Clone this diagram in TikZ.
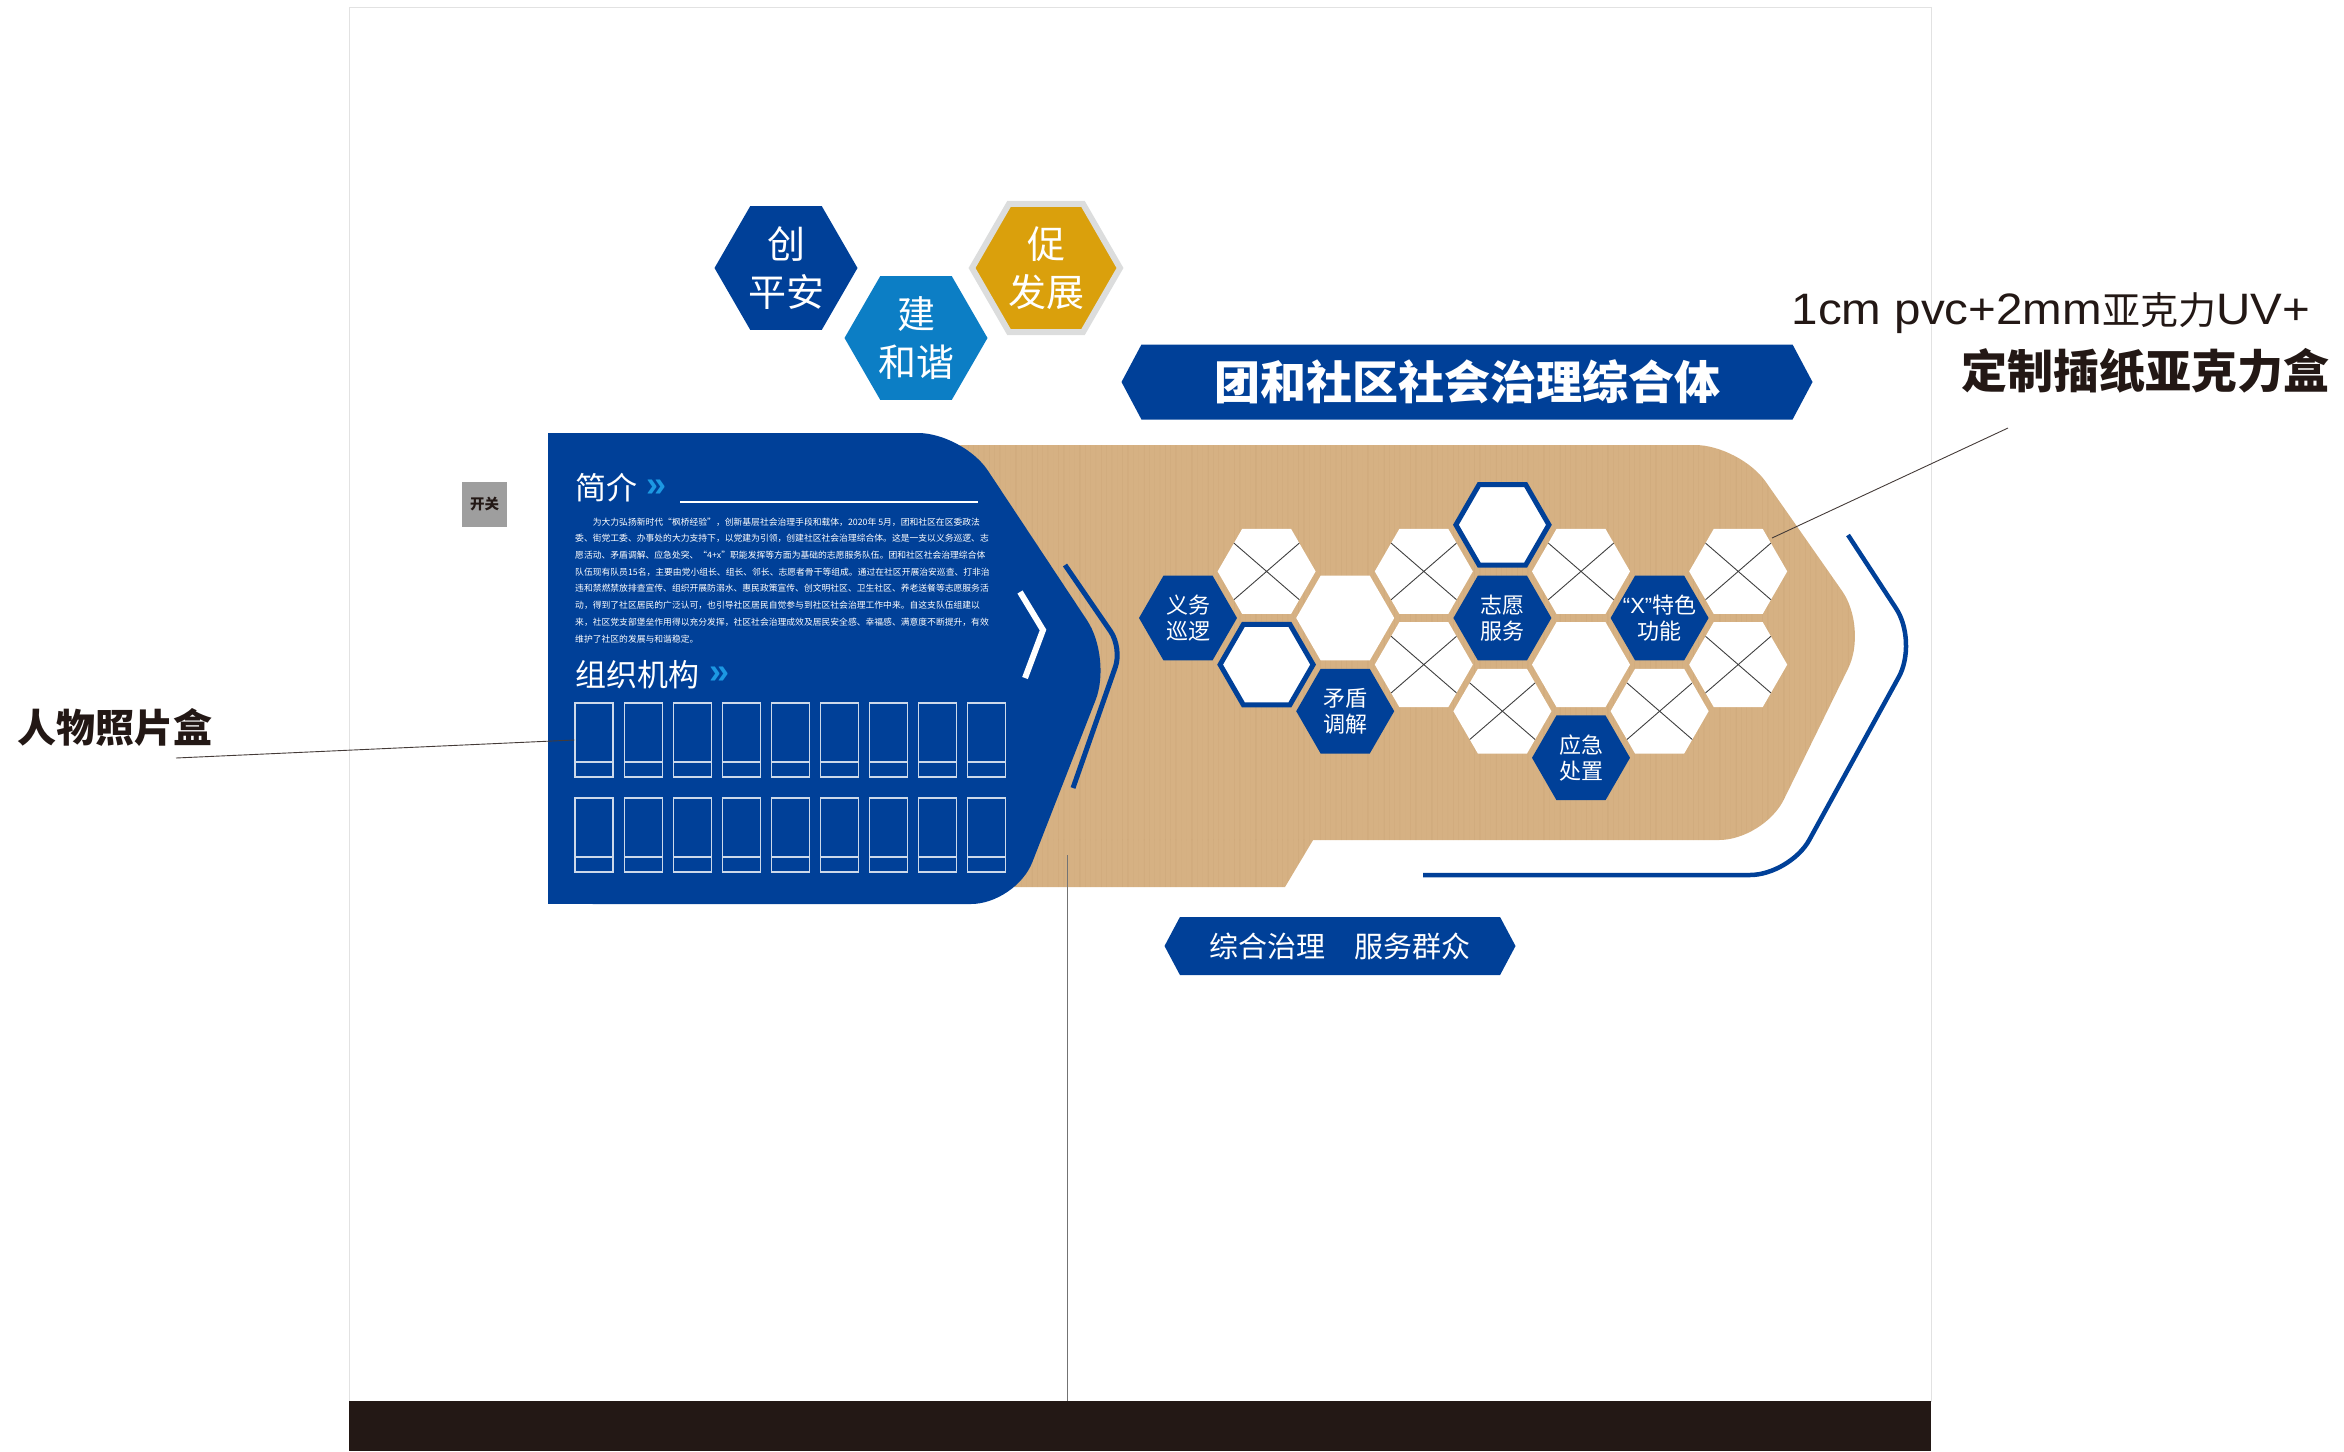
\documentclass[tikz,border=0pt]{standalone}
\usepackage{fontspec}
\setmainfont{Liberation Sans}
\newfontfamily\cjk{Noto Sans CJK SC}
\usetikzlibrary{shapes.geometric,shapes.symbols,positioning}

\definecolor{mainblue}{RGB}{0,64,152}
\definecolor{skyblue}{RGB}{12,126,197}
\definecolor{gold}{RGB}{218,160,12}
\definecolor{hexrim}{RGB}{220,221,221}
\definecolor{wood}{RGB}{214,177,131}
\definecolor{grain}{RGB}{176,136,90}
\definecolor{ink}{RGB}{35,24,21}
\definecolor{chevblue}{RGB}{28,152,226}
\definecolor{wallgray}{RGB}{226,226,226}
\definecolor{switchgray}{RGB}{158,158,158}

\tikzset{
  hexcell/.style={regular polygon,regular polygon sides=6,minimum size=98pt,inner sep=0pt,outer sep=0pt},
  crosshex/.style={hexcell,fill=white,path picture={\draw[black!75,line width=0.9pt]
      (path picture bounding box.north west) -- (path picture bounding box.south east)
      (path picture bounding box.north east) -- (path picture bounding box.south west);}},
  plainhex/.style={hexcell,fill=white},
  ringhex/.style={hexcell,minimum size=93pt,fill=white,draw=mainblue,line width=5pt},
  bluehex/.style={hexcell,fill=mainblue},
  hextext/.style={text=white,align=center,inner sep=0pt,font=\cjk\fontsize{22}{26}\selectfont},
  bighex/.style={hexcell,minimum size=143pt,text=white,align=center,font=\cjk\fontsize{38}{48}\selectfont},
  banner/.style={signal,signal to=west and east,signal pointer angle=124,fill=mainblue,text=white,inner sep=0pt},
  heading/.style={text=white,inner sep=0pt,anchor=west,font=\cjk\fontsize{31}{31}\selectfont},
  quotemark/.style={text=chevblue,inner sep=0pt,anchor=west,font=\bfseries\fontsize{36}{36}\selectfont},
  photobox/.style={draw=white!80!mainblue,line width=1.2pt,minimum width=38pt,minimum height=74pt,inner sep=0pt,
    path picture={\draw[white!80!mainblue,line width=1.2pt]
      ([yshift=15pt]path picture bounding box.south west) -- ([yshift=15pt]path picture bounding box.south east);}},
  leader/.style={draw=ink!85,line width=0.9pt},
  guide/.style={mainblue,line width=5pt,rounded corners=40pt},
}

\newcommand\woodgrain{%
  \foreach \g in {0,...,239}{%
    \pgfmathsetmacro\gx{920+4*\g+mod(37*\g,4)}%
    \pgfmathsetmacro\go{0.02+mod(53*\g,11)/110}%
    \draw[grain,line width=0.9pt,opacity=\go] (\gx,440) -- (\gx,890);}}

\begin{document}
\begin{tikzpicture}[x=1pt,y=-1pt]
\useasboundingbox (0,0) rectangle (2344,1451);

% wall and floor
\draw[wallgray,line width=1pt] (349,7) rectangle (1931,1401);
\path (349,1401) node (floor) [fill=ink,anchor=north west,minimum width=1582pt,minimum height=50pt,inner sep=0pt] {};

% wood board
\fill[wood,rounded corners=45pt] (920,445) -- (1740,445) -- (1868,628) -- (1764,840) -- (920,840) -- cycle;
\fill[wood] (920,800) -- (1337,800) -- (1285,887) -- (920,887) -- cycle;
\begin{scope}
  \clip[rounded corners=45pt] (920,445) -- (1740,445) -- (1868,628) -- (1764,840) -- (920,840) -- cycle;
  \woodgrain
\end{scope}
\begin{scope}
  \clip (920,839.5) -- (1313,839.5) -- (1285,887) -- (920,887) -- cycle;
  \woodgrain
\end{scope}

% blue board
\fill[mainblue,rounded corners=45pt] (548,433) -- (963,433) -- (1112,658) -- (1016,904) -- (548,904) -- cycle;
\fill[mainblue] (548,433) rectangle (760,904);

% chevrons
\draw[white,line width=6pt] (1020,592) -- (1043,630) -- (1025,678);
\draw[guide,rounded corners=20pt] (1065,565) -- (1122,648) -- (1073,788);
\draw[guide,line width=4.5pt] (1848,535) -- (1918,642) -- (1790,875) -- (1423,875);

% top hexes
\path (786,268) node (ping) [bighex,fill=mainblue] {创\\平安};
\path (916,338) node (hexie) [bighex,fill=skyblue] {建\\和谐};
\path (1046,268) node (fazhan) [bighex,minimum size=148pt,fill=gold,draw=hexrim,line width=6pt] {促\\发展};

% title
\path (1467,382) node (title) [banner,minimum width=691pt,minimum height=75pt,font=\cjk\bfseries\fontsize{46}{46}\selectfont] {团和社区社会治理综合体};

% intro
\path (575,488) node (introhead) [heading] {简介};
\path node (introarrow) [quotemark,right=9pt of introhead] {»};
\draw[white,line width=1.3pt] (680,502) -- (978,502);
\path (575,517.5) node (intro) [anchor=north west,inner sep=0pt,align=left,text=white,font=\cjk\fontsize{8.8}{16.7}\selectfont]
 {\hspace*{2em}为大力弘扬新时代“枫桥经验”，创新基层社会治理手段和载体，2020年 5月，团和社区在区委政法\\
  委、街党工委、办事处的大力支持下，以党建为引领，创建社区社会治理综合体。这是一支以义务巡逻、志\\
  愿活动、矛盾调解、应急处突、“4+x”职能发挥等方面为基础的志愿服务队伍。团和社区社会治理综合体\\
  队伍现有队员15名，主要由党小组长、组长、邻长、志愿者骨干等组成。通过在社区开展治安巡查、打非治\\
  违和禁燃禁放排查宣传、组织开展防溺水、惠民政策宣传、创文明社区、卫生社区、养老送餐等志愿服务活\\
  动，得到了社区居民的广泛认可，也引导社区居民自觉参与到社区社会治理工作中来。自这支队伍组建以\\
  来，社区党支部堡垒作用得以充分发挥，社区社会治理成效及居民安全感、幸福感、满意度不断提升，有效\\
  维护了社区的发展与和谐稳定。};

% organisation
\path (575,675) node (orghead) [heading] {组织机构};
\path node (orgarrow) [quotemark,right=10pt of orghead] {»};
\foreach \i in {1,...,9}{
  \path (594+49.1*\i-49.1,740) node (photoa\i) [photobox] {};
  \path (594+49.1*\i-49.1,835) node (photob\i) [photobox] {};
}

% honeycomb
\foreach \c/\r in {1/-1,3/-1,3/1,4/2,5/-1,6/2,7/-1,7/1}
  \path (1188+78.6*\c,618+46.6*\r) node (cell\c\r) [crosshex] {};
\foreach \c/\r in {2/0,5/1}
  \path (1188+78.6*\c,618+46.6*\r) node (cell\c\r) [plainhex] {};
\foreach \c/\r in {1/1,4/-2}
  \path (1188+78.6*\c,618+46.6*\r) node (cell\c\r) [ringhex] {};
\foreach \c/\r/\t in {0/0/{义务\\巡逻},2/2/{矛盾\\调解},4/0/{志愿\\服务},5/3/{应急\\处置},6/0/{{\rmfamily “X”}特色\\功能}}
  \path (1188+78.6*\c,618+46.6*\r) node (cell\c\r) [bluehex,label={[hextext]center:\t}] {};

% motto
\path (1340,946) node (motto) [banner,minimum width=351pt,minimum height=58pt,font=\cjk\fontsize{29}{29}\selectfont] {综合治理\hspace{1em}服务群众};

% switch
\path (484.5,504.5) node (switch) [fill=switchgray,minimum width=45pt,minimum height=45pt,inner sep=0pt,text=ink,font=\cjk\bfseries\fontsize{14.5}{14.5}\selectfont] {开关};

% notes
\path (115,727) node (photonote) [text=ink,inner sep=0pt,font=\cjk\bfseries\fontsize{39}{39}\selectfont] {人物照片盒};
\coordinate (photolead) at (176,758);
\draw[leader] (photolead) to (photoa1.west);

\path (2310,313) node (boxnote) [anchor=east,inner sep=0pt,text=ink,font=\fontsize{44}{44}\selectfont]
 {\scalebox{1.08}[1]{1cm pvc+2mm}{\cjk\fontsize{38}{38}\selectfont 亚克力}\scalebox{1.08}[1]{UV+}};
\path (2330,371) node (boxnote2) [anchor=east,inner sep=0pt,text=ink,font=\cjk\bfseries\fontsize{46}{46}\selectfont] {定制插纸亚克力盒};
\coordinate (boxlead) at (2008,428);
\coordinate (boxpin) at (1772,538);
\draw[leader] (boxlead) to (boxpin);

\coordinate (wallpin) at (1067,855);
\draw[black!55,line width=1pt] (wallpin) to (wallpin |- floor.north);
\end{tikzpicture}
\end{document}
